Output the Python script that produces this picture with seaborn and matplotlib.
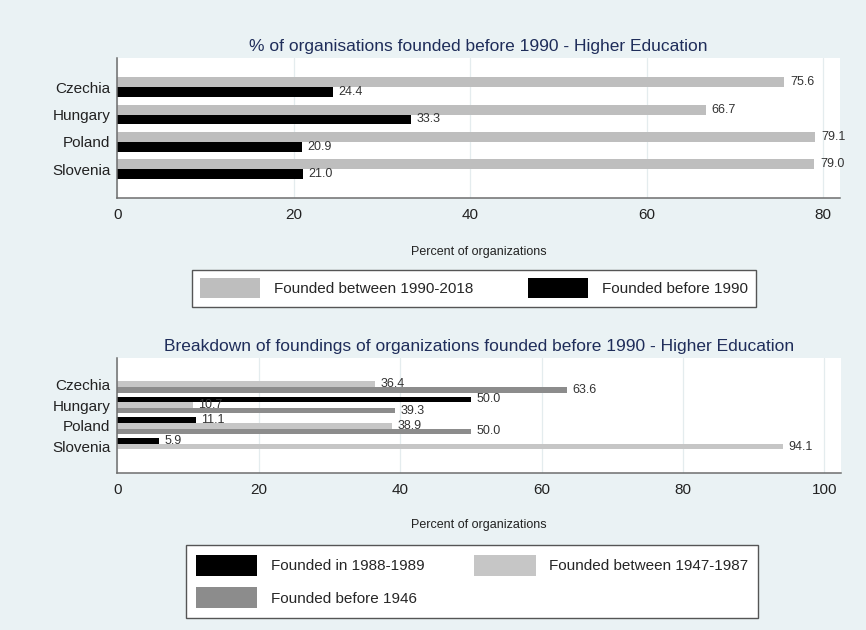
import matplotlib
matplotlib.use("Agg")
import matplotlib.pyplot as plt
import pandas as pd
import seaborn as sns
from matplotlib.patches import Patch

# ---- data -------------------------------------------------------------
countries = ["Czechia", "Hungary", "Poland", "Slovenia"]

# share of organisations by founding period (upper panel)
founded_1990_2018 = [75.6, 66.7, 79.1, 79.0]
founded_before_1990 = [24.4, 33.3, 20.9, 21.0]
upper_periods = ["Founded between 1990-2018", "Founded before 1990"]

# breakdown of pre-1990 foundings (lower panel)
founded_1988_1989 = [0.0, 50.0, 11.1, 5.9]
founded_1947_1987 = [36.4, 10.7, 38.9, 94.1]
founded_before_1946 = [63.6, 39.3, 50.0, 0.0]
lower_periods = ["Founded in 1988-1989", "Founded between 1947-1987",
                 "Founded before 1946"]

upper_ticks = [0, 20, 40, 60, 80]
lower_ticks = [0, 20, 40, 60, 80, 100]

upper_title = "% of organisations founded before 1990 - Higher Education"
lower_title = ("Breakdown of foundings of organizations founded before 1990 "
               "- Higher Education")
x_title = "Percent of organizations"

# ---- style ------------------------------------------------------------
sns.set_style("white")
plt.rcParams["font.family"] = ["Liberation Sans", "DejaVu Sans"]

BG = "#EAF2F4"
TITLE_C = "#1f2d5a"
SPINE_C = "#6e6e6e"
GRID_C = "#e4ecee"
upper_colors = ["#bebebe", "#000000"]
lower_colors = ["#000000", "#c6c6c6", "#8c8c8c"]

W, H = 866, 630
fig = plt.figure(figsize=(W / 100, H / 100), dpi=100)
fig.patch.set_facecolor(BG)


def px_axes(left, top, right, bottom):
    return fig.add_axes([left / W, 1 - bottom / H, (right - left) / W,
                         (bottom - top) / H])


def long_frame(series, periods):
    rows = []
    for period, vals in zip(periods, series):
        for c, v in zip(countries, vals):
            rows.append({"country": c, "period": period, "value": v})
    return pd.DataFrame(rows)


def panel(ax, series, periods, colors, width, xmax, ticks, ylim, title,
          label_y):
    df = long_frame(series, periods)
    sns.barplot(data=df, x="value", y="country", hue="period",
                hue_order=periods, order=countries, palette=colors,
                width=width, dodge=True, errorbar=None, saturation=1,
                linewidth=0, legend=False, ax=ax)
    for cont, vals in zip(ax.containers, series):
        ax.bar_label(cont, labels=[f"{v:.1f}" if v > 0 else "" for v in vals],
                     padding=4, fontsize=9, color="#333333")
    ax.set_facecolor("white")
    ax.set_xlim(0, xmax)
    ax.set_ylim(*ylim)
    ax.set_xticks(ticks)
    ax.set_xticklabels([str(t) for t in ticks])
    ax.grid(axis="x", color=GRID_C, linewidth=0.9)
    ax.grid(axis="y", visible=False)
    ax.set_axisbelow(True)
    for s in ("top", "right"):
        ax.spines[s].set_visible(False)
    for s in ("left", "bottom"):
        ax.spines[s].set_color(SPINE_C)
        ax.spines[s].set_linewidth(1.1)
    ax.tick_params(axis="x", length=4, width=1, color=SPINE_C, pad=3.5,
                   labelsize=11, labelcolor="#222222")
    ax.tick_params(axis="y", length=0, pad=5, labelsize=11,
                   labelcolor="#222222")
    ax.set_ylabel("")
    ax.set_xlabel(x_title, fontsize=9, color="#222222")
    ax.xaxis.set_label_coords(0.5, label_y)
    ax.set_title(title, fontsize=12.5, color=TITLE_C, pad=5)


ax1 = px_axes(117.3, 58, 840, 197.5)
panel(ax1, [founded_1990_2018, founded_before_1990], upper_periods,
      upper_colors, 0.73, 81.9, upper_ticks, (4.04, -1.07), upper_title,
      -0.35)

ax2 = px_axes(117.3, 357.5, 840.7, 472.7)
panel(ax2, [founded_1988_1989, founded_1947_1987, founded_before_1946],
      lower_periods, lower_colors, 0.81, 102.3, lower_ticks, (4.26, -1.29),
      lower_title, -0.405)

# ---- legends ----------------------------------------------------------
up_handles = [Patch(facecolor=c, edgecolor="none", label=l)
              for c, l in zip(upper_colors, upper_periods)]
leg1 = fig.legend(handles=up_handles, loc="center",
                  bbox_to_anchor=(474 / W, 1 - 288.3 / H), ncol=2,
                  frameon=True, fancybox=False, edgecolor="#555555",
                  facecolor="white", framealpha=1, fontsize=11,
                  handlelength=3.9, handleheight=1.63, handletextpad=0.9,
                  columnspacing=3.6, borderpad=0.57)
leg1.get_frame().set_linewidth(1.0)

lo_order = [0, 2, 1]
lo_handles = [Patch(facecolor=lower_colors[i], edgecolor="none",
                    label=lower_periods[i]) for i in lo_order]
leg2 = fig.legend(handles=lo_handles, loc="center",
                  bbox_to_anchor=(472 / W, 1 - 581.5 / H), ncol=2,
                  frameon=True, fancybox=False, edgecolor="#555555",
                  facecolor="white", framealpha=1, fontsize=11,
                  handlelength=4.05, handleheight=1.78, handletextpad=0.9,
                  columnspacing=3.2, borderpad=0.62, labelspacing=0.72)
leg2.get_frame().set_linewidth(1.0)

fig.savefig("out.png", dpi=100, facecolor=fig.get_facecolor())
